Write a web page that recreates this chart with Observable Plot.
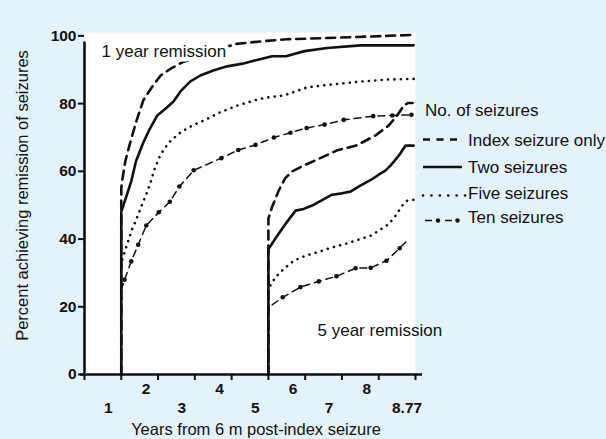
<!DOCTYPE html>
<html><head><meta charset="utf-8">
<script src="https://cdn.jsdelivr.net/npm/d3@7"></script>
<script src="https://cdn.jsdelivr.net/npm/@observablehq/plot@0.6"></script>
<style>
html,body{margin:0;padding:0;background:#e4f2fa;}
#chart{position:relative;width:606px;height:439px;overflow:hidden;font-family:"Liberation Sans",Arial,sans-serif;color:#111;}
#legend{position:absolute;left:0;top:0;}
</style></head><body><div id="chart"></div>
<script>
// ---- data ----
const indexOne = [[1,0],[1,55],[1.02,57],[1.11,63],[1.27,69.6],[1.43,75.5],[1.6,81],[1.84,85],[2.07,88.3],[2.34,90.3],[2.66,92.2],[4.1,97.6],[4.92,98.5],[5.5,99],[6.96,99.5],[8.95,100.3]];
const twoOne = [[1,0],[1,48],[1.12,52],[1.27,57],[1.4,63],[1.6,68.5],[1.75,72],[1.98,76.5],[2.2,78.5],[2.42,80.6],[2.61,83.6],[2.87,86.5],[3.15,88.3],[3.5,89.8],[3.88,91],[4.3,91.8],[4.8,93.2],[5.1,94],[5.48,94],[5.98,95.5],[6.6,96.4],[7.5,97.2],[8.95,97.2]];
const fiveOne = [[1,0],[1,33],[1.16,38.5],[1.3,43],[1.43,46.4],[1.57,50.3],[1.7,53.8],[1.82,57.5],[1.9,60.5],[2.07,65],[2.29,68.5],[2.61,71.5],[2.93,73.5],[3.34,75.5],[3.7,77.5],[4.15,79.4],[4.6,80.9],[4.9,81.7],[5.42,82.4],[6.05,84.8],[6.6,85.5],[7.5,86.5],[8.23,87.1],[8.95,87.3]];
const tenOne = [[1,0],[1,25],[1.09,28],[1.27,33.4],[1.46,38.3],[1.68,44],[2.02,47.9],[2.32,51],[2.58,55.5],[2.97,60.3],[3.72,63.9],[4.18,66.3],[4.65,67.8],[5.15,70],[5.6,71.4],[6.04,72.8],[6.53,73.8],[7.05,75.2],[7.85,76.3],[8.37,76.5],[8.89,76.7]];

const indexFive = [[5,0],[5,46],[5.1,49.5],[5.28,54.3],[5.46,58],[5.65,60],[5.96,61.7],[6.37,63.7],[6.87,66.2],[7.41,67.7],[7.91,70.6],[8.27,73.5],[8.5,76.5],[8.68,79.4],[8.8,80.2],[8.92,80.2]];
const twoFive = [[5,0],[5,37],[5.24,41],[5.46,44.4],[5.74,48.4],[5.96,48.9],[6.19,49.9],[6.46,51.5],[6.73,53.1],[7.0,53.5],[7.23,54],[7.5,55.8],[7.82,57.7],[8.0,59],[8.18,60.2],[8.32,61.7],[8.55,64.7],[8.73,67.6],[8.95,67.6]];
const fiveFive = [[5,0],[5,25.3],[5.19,28.7],[5.42,31.2],[5.69,33.6],[6.01,35.1],[6.33,36.1],[6.69,37.4],[7.1,38.6],[7.5,40],[7.78,41],[8.0,42.5],[8.27,44.4],[8.46,46.9],[8.64,49.9],[8.77,51.3],[8.95,51.6]];
const tenFive = [[5,0],[5,20],[5.08,20.4],[5.39,22.8],[5.87,25.8],[6.37,27.5],[6.85,29],[7.37,31.4],[7.78,31.5],[8.21,33.6],[8.57,37.3],[8.77,39.5]];

const yTicks = [0,20,40,60,80,100];
const xTickMarks = [0,1,2,3,4,5,6,7,8,9];
const xLabelsUpper = [2,4,6,8];
const xLabelsLower = [1,3,5,7];
const xLabelEnd = [8.77];
const legendTitle = "No. of seizures";
const legendLabels = ["Index seizure only","Two seizures","Five seizures","Ten seizures"];
const annotations = ["1 year remission","5 year remission"];
const xTitle = "Years from 6 m post-index seizure";
const yTitle = "Percent achieving remission of seizures";

// ---- chart ----
const FONT = '"Liberation Sans",Arial,sans-serif';
const X = d => d[0], Y = d => d[1];
const ink = "#111";
const W = 2.6;
const TXT = 17, TICK = 15.5, TITLE = 16.5;

const plot = Plot.plot({
  width: 606, height: 439,
  marginLeft: 84, marginRight: 191, marginTop: 32, marginBottom: 65,
  x: {domain: [0, 9]},
  y: {domain: [0, 101]},
  style: {background: "transparent", fontFamily: FONT, color: ink, overflow: "visible"},
  marks: [
    Plot.frame({fill: "white", stroke: "none"}),
    // one-year remission
    Plot.line(tenOne, {x: X, y: Y, stroke: ink, strokeWidth: 1.5, strokeDasharray: "7,5"}),
    Plot.dot(tenOne.slice(2), {x: X, y: Y, r: 2.3, fill: ink}),
    Plot.line(fiveOne, {x: X, y: Y, stroke: ink, strokeWidth: W, strokeDasharray: "0.1,6.3", strokeLinecap: "round"}),
    Plot.line(indexOne, {x: X, y: Y, stroke: ink, strokeWidth: W, strokeDasharray: "9,6"}),
    Plot.line(twoOne, {x: X, y: Y, stroke: ink, strokeWidth: W}),
    // five-year remission
    Plot.line(tenFive, {x: X, y: Y, stroke: ink, strokeWidth: 1.5, strokeDasharray: "7,5"}),
    Plot.dot(tenFive.slice(3, -1), {x: X, y: Y, r: 2.3, fill: ink}),
    Plot.line(fiveFive, {x: X, y: Y, stroke: ink, strokeWidth: W, strokeDasharray: "0.1,6.3", strokeLinecap: "round"}),
    Plot.line(indexFive, {x: X, y: Y, stroke: ink, strokeWidth: W, strokeDasharray: "9,6"}),
    Plot.line(twoFive, {x: X, y: Y, stroke: ink, strokeWidth: W}),
    // annotations
    Plot.text([annotations[0]], {text: d => d, frameAnchor: "top-left", dx: 17, dy: 19, textAnchor: "start", lineAnchor: "middle", fontSize: TXT, fill: ink, stroke: "white", strokeWidth: 9, paintOrder: "stroke"}),
    Plot.text([annotations[1]], {text: d => d, frameAnchor: "bottom-left", dx: 233, dy: -44, textAnchor: "start", lineAnchor: "middle", fontSize: TXT, fill: ink}),
    // axes
    Plot.ruleY([0], {stroke: ink, strokeWidth: W, insetLeft: -4, insetRight: -7}),
    Plot.ruleX([0], {y1: 0, y2: 100, stroke: ink, strokeWidth: W, insetTop: -1, insetBottom: -6}),
    Plot.axisY({ticks: yTicks, tickSize: 6, tickPadding: 2, fontSize: TICK, fontWeight: "bold", strokeWidth: 2, label: null, tickFormat: d => String(d)}),
    Plot.axisX({ticks: xTickMarks, tickSize: 6, strokeWidth: 2, label: null, tickFormat: () => ""}),
    Plot.text(xLabelsUpper, {x: d => d, text: d => String(d), frameAnchor: "bottom", dx: -12, dy: 15, lineAnchor: "middle", fontSize: TICK, fontWeight: "bold", fill: ink}),
    Plot.text(xLabelsLower, {x: d => d, text: d => String(d), frameAnchor: "bottom", dx: -13, dy: 34, lineAnchor: "middle", fontSize: TICK, fontWeight: "bold", fill: ink}),
    Plot.text(xLabelEnd, {x: d => d, text: d => String(d), frameAnchor: "bottom", dx: 0, dy: 34, lineAnchor: "middle", fontSize: TICK, fontWeight: "bold", fill: ink}),
    Plot.text([xTitle], {text: d => d, frameAnchor: "bottom", dx: 6, dy: 55, textAnchor: "middle", lineAnchor: "middle", fontSize: TITLE, fill: ink}),
    Plot.text([yTitle], {text: d => d, frameAnchor: "left", dx: -62, dy: -8, rotate: -90, textAnchor: "middle", lineAnchor: "middle", fontSize: TITLE, fill: ink})
  ]
});
const chart = document.getElementById("chart");
chart.appendChild(plot);

// ---- legend (overlay) ----
const NS = "http://www.w3.org/2000/svg";
const leg = document.createElementNS(NS, "svg");
leg.setAttribute("id", "legend");
leg.setAttribute("width", 606);
leg.setAttribute("height", 439);
leg.style.fontFamily = FONT;
function el(tag, attrs, parent) {
  const e = document.createElementNS(NS, tag);
  for (const k in attrs) e.setAttribute(k, attrs[k]);
  (parent || leg).appendChild(e);
  return e;
}
const t0 = el("text", {x: 425, y: 110, dy: "0.35em", "font-size": TXT, fill: ink});
t0.textContent = legendTitle;
const rowY = [140, 167, 193, 217];
legendLabels.forEach((lab, i) => {
  const t = el("text", {x: 468, y: rowY[i], dy: "0.35em", "font-size": TXT, fill: ink});
  t.textContent = lab;
});
// samples
el("line", {x1: 423, x2: 462, y1: 139.5, y2: 139.5, stroke: ink, "stroke-width": W, "stroke-dasharray": "7,6.5"});
el("line", {x1: 423, x2: 462, y1: 167, y2: 167, stroke: ink, "stroke-width": W});
el("line", {x1: 423, x2: 466, y1: 195.5, y2: 195.5, stroke: ink, "stroke-width": W, "stroke-dasharray": "0.1,8.3", "stroke-linecap": "round"});
el("line", {x1: 425, x2: 452, y1: 220.5, y2: 220.5, stroke: ink, "stroke-width": 1.5, "stroke-dasharray": "7,13"});
el("circle", {cx: 438, cy: 220.5, r: 2.2, fill: ink});
el("circle", {cx: 457.5, cy: 220.5, r: 2.2, fill: ink});
chart.appendChild(leg);
</script></body></html>
